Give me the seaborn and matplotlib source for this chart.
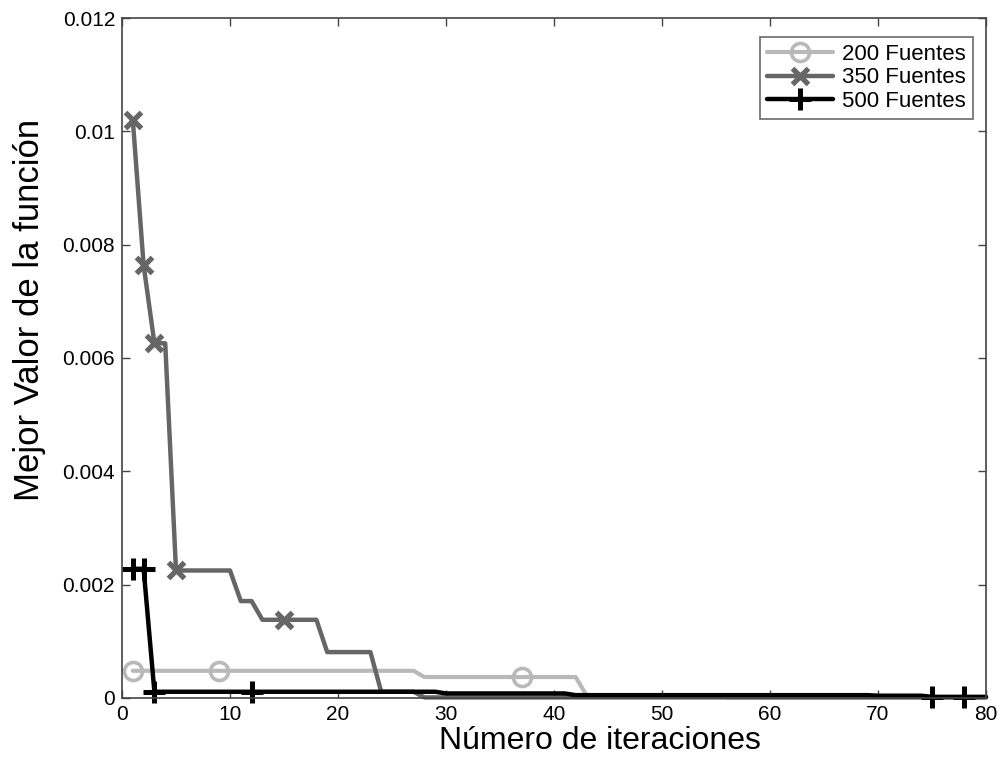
import matplotlib
matplotlib.use("Agg")
import matplotlib.pyplot as plt
import seaborn as sns
import pandas as pd

# Best objective value per iteration (vertices of each convergence curve)
iter_200 = [1, 9, 27, 28, 37, 42, 43, 55, 56, 80]
best_200 = [0.00048, 0.00048, 0.00048, 0.00037, 0.00037, 0.00037, 0.00005, 0.00005, 0.00001, 0.00001]
marks_200 = [0, 1, 4]

iter_350 = [1, 2, 3, 4, 5, 10, 11, 12, 13, 15, 18, 19, 23, 24, 27, 28, 80]
best_350 = [0.0102, 0.00764, 0.00626, 0.00626, 0.00225, 0.00225, 0.00171, 0.00171,
            0.00138, 0.00138, 0.00138, 0.00081, 0.00081, 0.00011, 0.00011, 0.00001, 0.00001]
marks_350 = [0, 1, 2, 4, 9]

iter_500 = [1, 2, 3, 12, 29, 30, 41, 42, 69, 70, 74, 75, 78, 80]
best_500 = [0.00228, 0.00228, 0.00011, 0.00011, 0.00011, 0.00008, 0.00008, 0.00005,
            0.00005, 0.00004, 0.00004, 0.00002, 0.00002, 0.00002]
marks_500 = [0, 1, 2, 3, 11, 12]

series_names = ["200 Fuentes", "350 Fuentes", "500 Fuentes"]
x_ticks = [0, 10, 20, 30, 40, 50, 60, 70, 80]
y_ticks = [0, 0.002, 0.004, 0.006, 0.008, 0.01, 0.012]
y_tick_labels = ["0", "0.002", "0.004", "0.006", "0.008", "0.01", "0.012"]

sns.set_style("ticks")
plt.rcParams["font.family"] = ["Liberation Sans", "DejaVu Sans"]

fig = plt.figure(figsize=(10.05, 7.6), dpi=100)
ax = fig.add_axes([0.1214, 0.0816, 0.8597, 0.8947])

styles = [
    dict(color="#b9b9b9", marker="o", markersize=13, markeredgewidth=2.6,
         markeredgecolor="#b9b9b9", markerfacecolor="none", lw=3.0),
    dict(color="#666666", marker="x", markersize=12, markeredgewidth=3.8,
         markeredgecolor="#666666", lw=3.2),
    dict(color="#000000", marker="+", markersize=16, markeredgewidth=3.6,
         markeredgecolor="#000000", lw=3.2),
]
data = [(iter_200, best_200, marks_200),
        (iter_350, best_350, marks_350),
        (iter_500, best_500, marks_500)]

for name, (xs, ys, mk), st in zip(series_names, data, styles):
    df = pd.DataFrame({"iter": xs, "best": ys})
    sns.lineplot(data=df, x="iter", y="best", ax=ax, sort=False, estimator=None,
                 markevery=mk, label=name, clip_on=False, **st)

ax.set_xlim(0, 80)
ax.set_ylim(0, 0.012)
ax.set_xticks(x_ticks)
ax.set_xticklabels([str(t) for t in x_ticks])
ax.set_yticks(y_ticks)
ax.set_yticklabels(y_tick_labels)
ax.tick_params(direction="in", length=6, width=1, colors="#444444",
               labelcolor="black", labelsize=15, top=True, right=True, pad=5)
for sp in ax.spines.values():
    sp.set_visible(True)
    sp.set_color("#444444")
    sp.set_linewidth(1.2)

ax.set_xlabel("Número de iteraciones", fontsize=23, color="black")
ax.set_ylabel("Mejor Valor de la función", fontsize=25, color="black")
ax.xaxis.set_label_coords(0.553, -0.041)
ax.yaxis.set_label_coords(-0.088, 0.571)

leg = ax.legend(loc="upper right", fontsize=16, frameon=True, fancybox=False,
                handlelength=3.0, handletextpad=0.4, labelspacing=0.12,
                borderpad=0.3, borderaxespad=0.4, bbox_to_anchor=(0.995, 0.985))
leg.get_frame().set_edgecolor("#444444")
leg.get_frame().set_linewidth(1.2)
for t in leg.get_texts():
    t.set_color("black")

fig.savefig("out.png", dpi=100)
